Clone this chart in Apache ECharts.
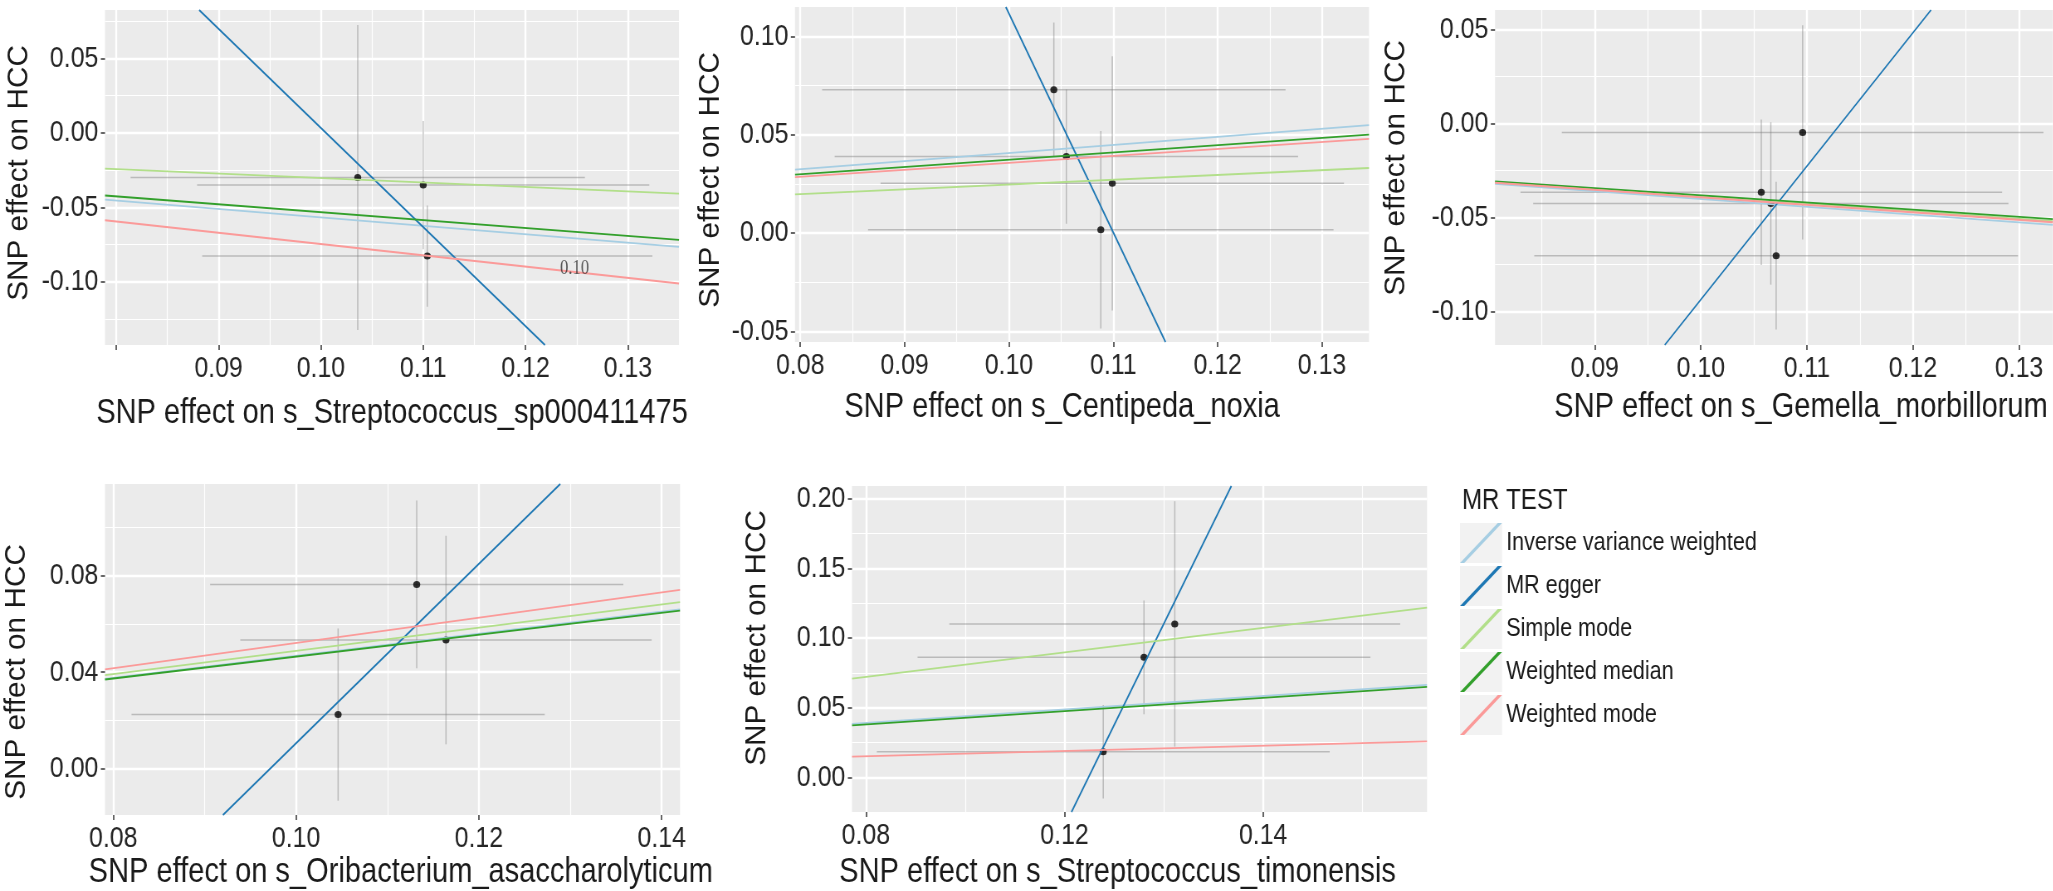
<!DOCTYPE html>
<html>
<head>
<meta charset="utf-8">
<title>MR scatter plots - HCC</title>
<script src="https://cdn.jsdelivr.net/npm/echarts@6/dist/echarts.min.js"></script>
<style>
    html, body { margin: 0; padding: 0; background: #ffffff; overflow: hidden; width: 2053px; height: 891px; }
    /* the figure uses a narrow sans face: draw wider and squeeze horizontally */
    #chart { width: 2474px; height: 891px; transform: scaleX(0.83); transform-origin: 0 0; }
</style>
</head>
<body>
<div id="chart"></div>
<script>
    // MR methods (legend order) and the exposures of the five panels
    var methods = ['Inverse variance weighted', 'MR egger', 'Simple mode', 'Weighted median', 'Weighted mode'];
    var exposures = ['s_Streptococcus_sp000411475', 's_Centipeda_noxia', 's_Gemella_morbillorum',
                     's_Oribacterium_asaccharolyticum', 's_Streptococcus_timonensis'];
    var outcomeTitle = 'SNP effect on HCC';

    // SNP effects: [beta exposure, beta HCC, se exposure, se HCC]
    var snpStreptococcusSp = [[0.1036, -0.0300, 0.0222, 0.1024], [0.1100, -0.0351, 0.0221, 0.0431], [0.1104, -0.0828, 0.0220, 0.0340]];
    var snpCentipeda = [[0.1043, 0.0729, 0.0222, 0.0342], [0.1055, 0.0389, 0.0222, 0.0341], [0.1099, 0.0253, 0.0222, 0.0647], [0.1088, 0.0017, 0.0223, 0.0502]];
    var snpGemella = [[0.1096, -0.0048, 0.0227, 0.0570], [0.1057, -0.0367, 0.0227, 0.0387], [0.1066, -0.0426, 0.0224, 0.0432], [0.1071, -0.0704, 0.0228, 0.0393]];
    var snpOribacterium = [[0.1132, 0.0763, 0.0226, 0.0347], [0.1164, 0.0533, 0.0225, 0.0431], [0.1046, 0.0225, 0.0226, 0.0356]];
    var snpTimonensis = [[0.1311, 0.1101, 0.0227, 0.0880], [0.1280, 0.0861, 0.0228, 0.0408], [0.1239, 0.0184, 0.0228, 0.0336]];

    // fitted MR lines per panel, as read: [[x left, y], [x right, y]]
    var lineIVW = [[[0.0789, -0.0448], [0.1350, -0.0766]], [[0.0795, 0.0323], [0.1345, 0.0549]], [[0.0806, -0.0322], [0.1332, -0.0540]],
                   [[0.0791, 0.0373], [0.1420, 0.0660]], [[0.0986, 0.0384], [0.1565, 0.0663]]];
    var lineEgger = [[[0.0881, 0.0825], [0.1219, -0.1425]], [[0.0997, 0.1150], [0.1150, -0.0554]], [[0.0966, -0.1179], [0.1217, 0.0603]],
                     [[0.0920, -0.0190], [0.1289, 0.1178]], [[0.1207, -0.0248], [0.1368, 0.2090]]];
    var lineSimpleMode = [[[0.0789, -0.0240], [0.1350, -0.0408]], [[0.0795, 0.0197], [0.1345, 0.0331]], [[0.0806, -0.0313], [0.1332, -0.0520]],
                          [[0.0791, 0.0388], [0.1420, 0.0690]], [[0.0986, 0.0708], [0.1565, 0.1217]]];
    var lineWeightedMedian = [[[0.0789, -0.0421], [0.1350, -0.0719]], [[0.0795, 0.0297], [0.1345, 0.0501]], [[0.0806, -0.0309], [0.1332, -0.0509]],
                              [[0.0791, 0.0370], [0.1420, 0.0655]], [[0.0986, 0.0373], [0.1565, 0.0649]]];
    var lineWeightedMode = [[[0.0789, -0.0587], [0.1350, -0.1012]], [[0.0795, 0.0285], [0.1345, 0.0479]], [[0.0806, -0.0316], [0.1332, -0.0526]],
                            [[0.0791, 0.0412], [0.1420, 0.0740]], [[0.0986, 0.0149], [0.1565, 0.0259]]];

    // stray text printed inside the first panel
    var note1 = [[0.1248, -0.0911, '0.10']];

    // tick values and labels
    var xTicks = [[0.08, 0.09, 0.10, 0.11, 0.12, 0.13], [0.08, 0.09, 0.10, 0.11, 0.12, 0.13], [0.09, 0.10, 0.11, 0.12, 0.13],
                  [0.08, 0.10, 0.12, 0.14], [0.10, 0.12, 0.14]];
    var xLabels = [['', '0.09', '0.10', '0.11', '0.12', '0.13'], ['0.08', '0.09', '0.10', '0.11', '0.12', '0.13'],
                   ['0.09', '0.10', '0.11', '0.12', '0.13'], ['0.08', '0.10', '0.12', '0.14'], ['0.08', '0.12', '0.14']];
    var xMinor = [[0.085, 0.095, 0.105, 0.115, 0.125], [0.085, 0.095, 0.105, 0.115, 0.125], [0.085, 0.095, 0.105, 0.115, 0.125],
                  [0.09, 0.11, 0.13], [0.11, 0.13, 0.15]];
    var yTicks = [[-0.10, -0.05, 0, 0.05], [-0.05, 0, 0.05, 0.10], [-0.10, -0.05, 0, 0.05], [0, 0.04, 0.08], [0, 0.05, 0.10, 0.15, 0.20]];
    var yLabels = [['-0.10', '-0.05', '0.00', '0.05'], ['-0.05', '0.00', '0.05', '0.10'], ['-0.10', '-0.05', '0.00', '0.05'],
                   ['0.00', '0.04', '0.08'], ['0.00', '0.05', '0.10', '0.15', '0.20']];
    var yMinor = [[-0.125, -0.075, -0.025, 0.025, 0.075], [-0.025, 0.025, 0.075], [-0.075, -0.025, 0.025],
                  [0.02, 0.06, 0.10], [0.025, 0.075, 0.125, 0.175]];

    var snpSets = [snpStreptococcusSp, snpCentipeda, snpGemella, snpOribacterium, snpTimonensis];
    var methodLines = [lineIVW, lineEgger, lineSimpleMode, lineWeightedMedian, lineWeightedMode];
    var methodColors = ['#A6CEE3', '#1F78B4', '#B2DF8A', '#33A02C', '#FB9A99'];

    var FONT = "'Liberation Sans', Arial, sans-serif";
    var SX = 0.83;                     // horizontal squeeze applied by css
    function px(v) { return v / SX; }  // screen x -> chart x

    // panel boxes (screen px), axis limits, x title padding, y title centre
    var layout = [
        { box: { left: 105, top: 10, width: 574, height: 335 }, x: [0.0789, 0.1350], y: [-0.1425, 0.0825], xGap: 51, xPad: [0, 0, 0, 0], yTitle: [19, 173] },
        { box: { left: 795, top: 7, width: 574, height: 335 }, x: [0.0795, 0.1345], y: [-0.0554, 0.1150], xGap: 48, xPad: [0, 48, 0, 0], yTitle: [711, 180] },
        { box: { left: 1495, top: 10, width: 558, height: 335 }, x: [0.0806, 0.1332], y: [-0.1179, 0.0603], xGap: 45, xPad: [0, 0, 0, 65], yTitle: [1396, 168] },
        { box: { left: 105, top: 484, width: 575, height: 332 }, x: [0.0791, 0.1420], y: [-0.0190, 0.1178], xGap: 40, xPad: [0, 0, 0, 20], yTitle: [17, 672] },
        { box: { left: 852, top: 486, width: 575, height: 330 }, x: [0.0986, 0.1565], y: [-0.0248, 0.2090], xGap: 43, xPad: [0, 53, 0, 0], yTitle: [757, 638] }
    ];

    function labelFormatter(ticks, labels) {
        return function (v) {
            for (var j = 0; j < ticks.length; j++) {
                if (Math.abs(ticks[j] - v) < 1e-9) return labels[j];
            }
            return '';
        };
    }

    function mainAxis(dim, gi, range, ticks, labels, name, gap, pad) {
        return {
            type: 'value',
            gridIndex: gi,
            min: range[0],
            max: range[1],
            name: name,
            nameLocation: 'middle',
            nameGap: gap,
            nameTextStyle: { fontSize: 35, color: '#1a1a1a', fontFamily: FONT, padding: pad },
            axisLine: { show: false, onZero: false },
            axisTick: { show: true, length: 5, customValues: ticks, lineStyle: { color: '#333333', width: 1.5 } },
            axisLabel: {
                show: true,
                customValues: ticks,
                margin: dim === 'x' ? 9 : 8,
                fontSize: 30,
                color: '#262626',
                fontFamily: FONT,
                formatter: labelFormatter(ticks, labels)
            },
            splitLine: { show: true, lineStyle: { color: '#ffffff', width: 2.4 } }
        };
    }

    function minorAxis(gi, range, minor) {
        return {
            type: 'value',
            gridIndex: gi,
            min: range[0],
            max: range[1],
            axisLine: { show: false, onZero: false },
            axisTick: { show: false, customValues: minor },
            axisLabel: { show: false, customValues: minor },
            splitLine: { show: true, lineStyle: { color: '#ffffff', width: 1.2 } }
        };
    }

    function errorBarItem(params, api) {
        var x = api.value(0), y = api.value(1), sx = api.value(2), sy = api.value(3);
        var l = api.coord([x - sx, y]), r = api.coord([x + sx, y]);
        var t = api.coord([x, y + sy]), b = api.coord([x, y - sy]);
        var st = { stroke: 'rgba(120,120,120,0.42)', lineWidth: 1.5 };
        return {
            type: 'group',
            children: [
                { type: 'line', shape: { x1: l[0], y1: l[1], x2: r[0], y2: r[1] }, style: st },
                { type: 'line', shape: { x1: t[0], y1: t[1], x2: b[0], y2: b[1] }, style: st }
            ]
        };
    }

    var grids = [], xAxes = [], yAxes = [], series = [], graphics = [];
    layout.forEach(function (p, i) {
        grids.push({
            show: true, backgroundColor: '#EBEBEB', borderWidth: 0,
            left: px(p.box.left), width: px(p.box.width), top: p.box.top, height: p.box.height
        });
        xAxes.push(mainAxis('x', i, p.x, xTicks[i], xLabels[i], 'SNP effect on ' + exposures[i], p.xGap, p.xPad));
        xAxes.push(minorAxis(i, p.x, xMinor[i]));
        yAxes.push(mainAxis('y', i, p.y, yTicks[i], yLabels[i], '', 0, 0));
        yAxes.push(minorAxis(i, p.y, yMinor[i]));

        // vertical outcome title, narrowed along its length like the x titles
        graphics.push({
            type: 'text', x: px(p.yTitle[0]), y: p.yTitle[1],
            rotation: Math.PI / 2, scaleX: 0.85, scaleY: 1 / SX * 0.83,
            silent: true, z: 5,
            style: { text: outcomeTitle, fontSize: 35, fontFamily: FONT, fill: '#1a1a1a', align: 'center', verticalAlign: 'middle' }
        });

        var ax = 2 * i;
        series.push({
            type: 'custom', name: 'SNP', xAxisIndex: ax, yAxisIndex: ax,
            renderItem: errorBarItem, data: snpSets[i], encode: { x: 0, y: 1 },
            clip: true, silent: true, z: 2
        });
        series.push({
            type: 'scatter', name: 'SNP', xAxisIndex: ax, yAxisIndex: ax,
            data: snpSets[i], encode: { x: 0, y: 1 },
            symbolSize: [7 / SX, 7], itemStyle: { color: '#000000' }, silent: true, z: 3
        });
        methods.forEach(function (m, k) {
            series.push({
                type: 'line', name: m, xAxisIndex: ax, yAxisIndex: ax,
                data: methodLines[k][i], symbol: 'none', showSymbol: false,
                lineStyle: { color: methodColors[k], width: 1.8 },
                itemStyle: { color: methodColors[k] },
                clip: true, silent: true, z: 4
            });
        });
    });

    series.push({
        type: 'scatter', name: 'note', xAxisIndex: 0, yAxisIndex: 0,
        data: note1, symbolSize: 0, silent: true, z: 5,
        label: {
            show: true, position: 'inside',
            formatter: function (p) { return p.data[2]; },
            fontFamily: 'Liberation Serif, Times New Roman, serif', fontSize: 20, color: '#333333'
        }
    });

    // grey legend key boxes
    methods.forEach(function (m, k) {
        graphics.push({
            type: 'rect', left: px(1460), top: 523 + k * 43, z: 0,
            shape: { width: px(42), height: 40 },
            style: { fill: '#F2F2F2' }
        });
    });

    var chart = echarts.init(document.getElementById('chart'));
    chart.setOption({
        animation: false,
        backgroundColor: '#ffffff',
        title: {
            text: 'MR TEST', left: px(1462), top: 486, padding: 0,
            textStyle: { fontSize: 29, fontWeight: 'normal', color: '#1a1a1a', fontFamily: FONT }
        },
        legend: {
            data: methods,
            orient: 'vertical',
            left: px(1460), top: 523, padding: 0,
            itemWidth: px(42), itemHeight: 40, itemGap: 3,
            icon: 'path://M0,100 L90,0 L100,0 L10,100 Z',
            symbolKeepAspect: false,
            selectedMode: false,
            textStyle: { fontSize: 26, color: '#1a1a1a', fontFamily: FONT },
            z: 10
        },
        graphic: graphics,
        grid: grids,
        xAxis: xAxes,
        yAxis: yAxes,
        series: series
    });
</script>
</body>
</html>
